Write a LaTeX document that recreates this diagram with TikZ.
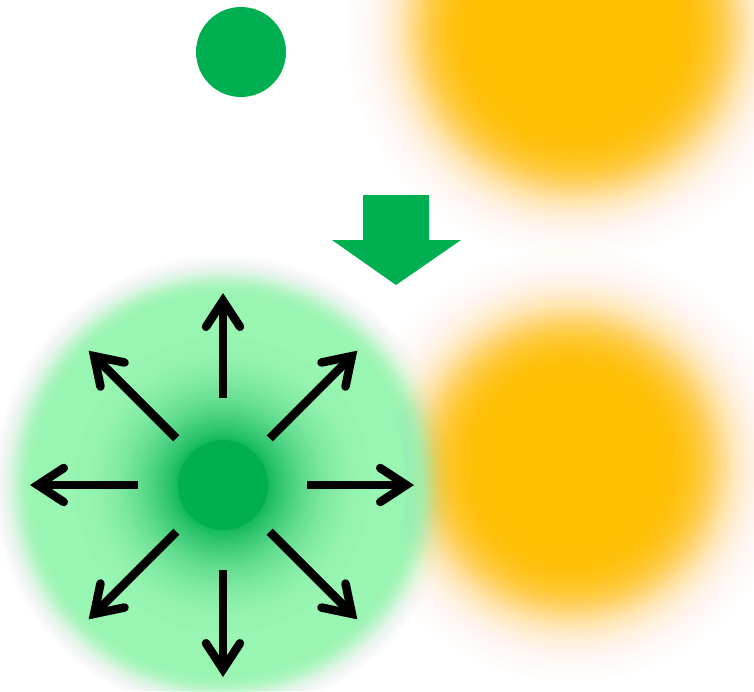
\documentclass[tikz,border=0pt]{standalone}
\usetikzlibrary{arrows.meta,calc}
\definecolor{dkgreen}{RGB}{0,176,80}
\definecolor{ltgreen}{RGB}{152,245,178}
\definecolor{gold}{RGB}{255,192,0}
% soft-edged disc: #1 x, #2 y, #3 half-opacity radius, #4 softness, #5 half range, #6 colour
\newcommand\softdisc[6]{%
  \foreach \k in {1,...,48}{
    \pgfmathsetmacro\sdR{#3+#5-\k*2*#5/48}
    \pgfmathsetmacro\sdP{\sdR+2*#5/48}
    \pgfmathsetmacro\sdT{1/(1+exp((\sdR-#3)/#4))}
    \pgfmathsetmacro\sdQ{\k==1 ? 0 : 1/(1+exp((\sdP-#3)/#4))}
    \pgfmathsetmacro\sdA{max(0,min(1,1-(1-\sdT)/(1-\sdQ)))}
    \fill[#6, fill opacity=\sdA] (#1,#2) circle (\sdR);
  }
  \fill[#6] (#1,#2) circle (#3-#5);
}
\tikzset{
  dot/.style={fill=dkgreen},
  ray/.style={line width=8.5pt, line cap=butt,
    -{Straight Barb[length=26pt,width=34pt,line cap=round,line join=miter]}},
  bigarrow/.style={fill=dkgreen}
}
\begin{document}
\begin{tikzpicture}[x=1pt,y=-1pt]
\useasboundingbox (0,0) rectangle (754,691);
\clip (0,0) rectangle (754,691);
\fill[white] (0,0) rectangle (754,691);
% orange blurred discs
\softdisc{575}{30}{160}{16}{72}{gold}
\softdisc{571}{465}{148}{16}{72}{gold}
% top small green disc
\fill[dot] (241,52) circle (45);
% big down arrow
\fill[bigarrow] (363,195) -- (429,195) -- (429,240) -- (461,240) -- (396,285) -- (332,240) -- (363,240) -- cycle;
% green glow
\coordinate (c) at (223,485);
\softdisc{223}{485}{207}{6}{24}{ltgreen}
\foreach \r in {150,148,...,44}{
  \pgfmathsetmacro\xv{max(0,min(1,(\r-45)/105))}
  \pgfmathtruncatemacro\mixv{12+88*(1-(1-\xv)*(1-\xv))}
  \fill[ltgreen!\mixv!dkgreen] (c) circle (\r);
}
\fill[dot] (c) circle (45);
% rays
\foreach \i/\a/\r/\e in {0/0/84/191,1/45/66/190,2/90/85/192,3/135/66/190,4/180/85/193,5/225/66/190,6/270/87/192,7/315/66/190}{
  \coordinate (s\i) at ($(c)+(\a:\r)$);
  \coordinate (e\i) at ($(c)+(\a:\e)$);
  \draw[ray] (s\i) -- (e\i);
}
\end{tikzpicture}
\end{document}
